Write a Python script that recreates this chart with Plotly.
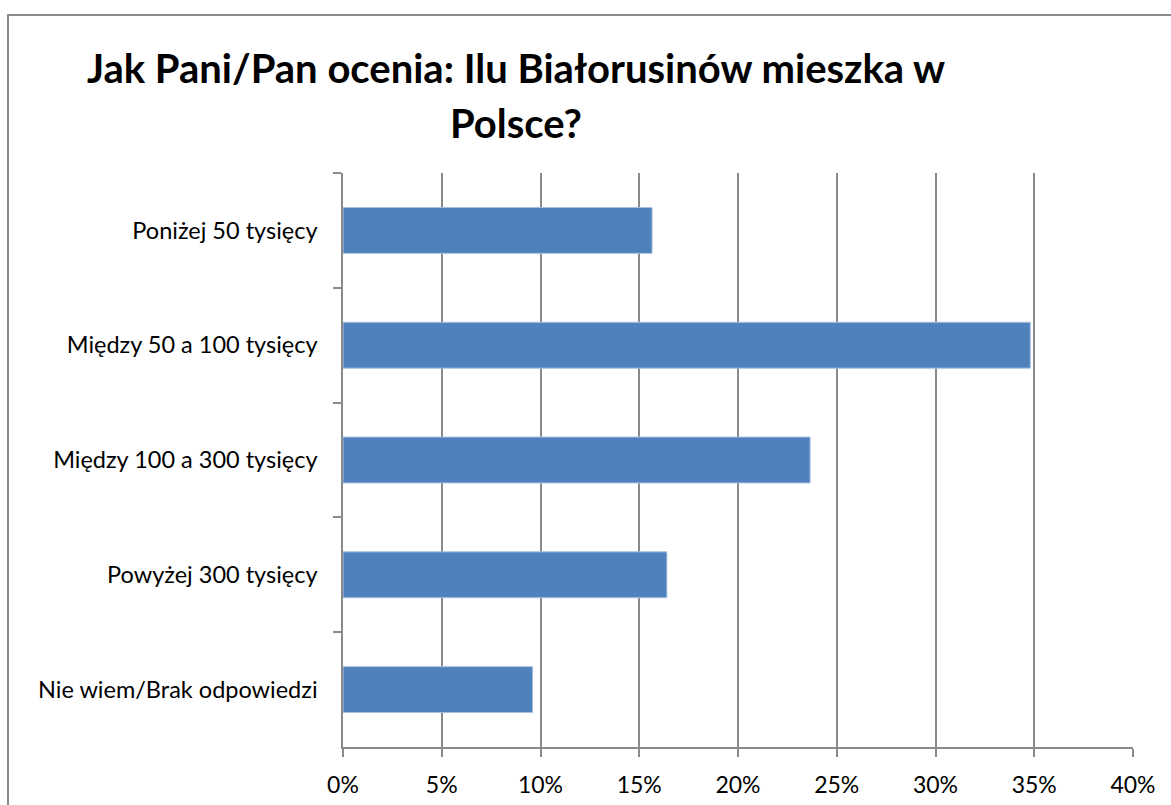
import plotly.graph_objects as go

categories = ["Poniżej 50 tysięcy", "Między 50 a 100 tysięcy", "Między 100 a 300 tysięcy",
              "Powyżej 300 tysięcy", "Nie wiem/Brak odpowiedzi"]
values = [15.65, 34.8, 23.65, 16.4, 9.6]
tick_vals = [0, 5, 10, 15, 20, 25, 30, 35, 40]
tick_text = ["0%", "5%", "10%", "15%", "20%", "25%", "30%", "35%", "40%"]
title_lines = ["Jak Pani/Pan ocenia: Ilu Białorusinów mieszka w", "Polsce?"]

W, H = 1171, 805
L, R, T, B = 343, 38, 173, 58
pw, ph = W - L - R, H - T - B

def px(x):
    return (x - L) / pw

def py(y):
    return (H - B - y) / ph

FONT = "Lato"
grid = "#8a8a8a"

fig = go.Figure(go.Bar(
    x=values, y=categories, orientation="h",
    marker=dict(color="#4F81BD", line=dict(color="#a9c1e0", width=1)),
    hoverinfo="skip",
))

fig.update_layout(
    width=W, height=H,
    margin=dict(l=L, r=R, t=T, b=B, autoexpand=False),
    paper_bgcolor="white", plot_bgcolor="white",
    bargap=0.6,
    showlegend=False,
    font=dict(family=FONT, color="black"),
)

fig.update_xaxes(
    range=[0, 40], tickvals=tick_vals, ticktext=tick_text,
    showgrid=True, gridcolor=grid, gridwidth=1.5,
    showline=True, linecolor=grid, linewidth=1.5,
    ticks="outside", ticklen=8, tickcolor=grid, tickwidth=1.5,
    tickfont=dict(size=23, family=FONT, color="black"),
    ticklabelstandoff=9,
    zeroline=False,
)
fig.update_yaxes(
    categoryorder="array", categoryarray=categories, autorange="reversed",
    tickson="boundaries",
    showgrid=False,
    showline=True, linecolor=grid, linewidth=1.5,
    ticks="outside", ticklen=8, tickcolor=grid, tickwidth=1.5,
    tickfont=dict(size=23.5, family=FONT, color="black"),
    ticklabelstandoff=19,
)

for line, yc in zip(title_lines, [68, 123]):
    fig.add_annotation(
        text=line, xref="paper", yref="paper",
        x=px(516), y=py(yc), xanchor="center", yanchor="middle",
        showarrow=False, align="center",
        font=dict(size=40, family=FONT, color="black", weight="bold"),
    )

fig.add_shape(
    type="rect", xref="paper", yref="paper",
    x0=px(8), x1=px(1185), y0=py(15), y1=py(820),
    line=dict(color="#8a8a8a", width=2), fillcolor="rgba(0,0,0,0)",
    layer="below",
)

fig.write_html("out.html")
